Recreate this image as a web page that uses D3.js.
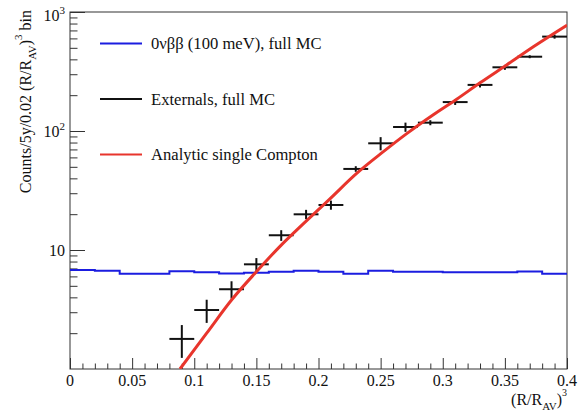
<!DOCTYPE html>
<html>
<head>
<meta charset="utf-8">
<script src="https://cdn.jsdelivr.net/npm/d3@7"></script>
<style>
body { margin: 0; background: #fff; }
text { font-family: "Liberation Serif", "Times New Roman", Times, serif; fill: #111; }
</style>
</head>
<body>
<svg id="chart" width="578" height="414"></svg>
<script>
// 0vbb histogram, 0.02 wide bins in (R/R_AV)^3
var binEdges = [0, 0.02, 0.04, 0.06, 0.08, 0.10, 0.12, 0.14, 0.16, 0.18, 0.20,
                0.22, 0.24, 0.26, 0.28, 0.30, 0.32, 0.34, 0.36, 0.38, 0.40]
var signalCounts = [6.79, 6.70, 6.32, 6.32, 6.62, 6.50, 6.35, 6.45, 6.58, 6.70,
                    6.55, 6.32, 6.70, 6.55, 6.55, 6.50, 6.50, 6.50, 6.60, 6.32]

// externals, full MC (bin centres, counts, errors)
var extCentres = [0.09, 0.11, 0.13, 0.15, 0.17, 0.19, 0.21, 0.23,
                  0.25, 0.27, 0.29, 0.31, 0.33, 0.35, 0.37, 0.39]
var extCounts = [1.79, 3.13, 4.68, 7.58, 13.3, 19.95, 23.9, 48.0,
                 78.8, 108, 117.5, 175, 244, 343, 421, 621]
var extErrors = [0.55, 0.69, 0.78, 0.97, 1.37, 1.8, 2.1, 2.6,
                 10, 9.6, 5.7, 9.5, 11.8, 16.6, 12, 24]
var binWidth = 0.02

// analytic single Compton curve
var comptonR = [0.0885, 0.110, 0.130, 0.150, 0.170, 0.1824, 0.209, 0.2307,
                0.2522, 0.271, 0.2924, 0.3112, 0.330, 0.3514, 0.3729, 0.400]
var comptonCounts = [1.0, 2.0, 3.8, 6.57, 11.0, 14.7, 26.8, 44,
                     67, 95, 137, 185, 254, 359, 511, 776]

var xMajor = [0, 0.05, 0.1, 0.15, 0.2, 0.25, 0.3, 0.35, 0.4]
var xMinor = [0.01, 0.02, 0.03, 0.04, 0.06, 0.07, 0.08, 0.09, 0.11, 0.12, 0.13, 0.14,
              0.16, 0.17, 0.18, 0.19, 0.21, 0.22, 0.23, 0.24, 0.26, 0.27, 0.28, 0.29,
              0.31, 0.32, 0.33, 0.34, 0.36, 0.37, 0.38, 0.39]
var yMajor = [10, 100, 1000]
var yMajorLabels = [['10', ''], ['10', '2'], ['10', '3']]
var yMinor = [2, 3, 4, 5, 6, 7, 8, 9, 20, 30, 40, 50, 60, 70, 80, 90,
              200, 300, 400, 500, 600, 700, 800, 900]

var legendItems = [
  {label: '0νββ (100 meV), full MC', color: '#1b1de0'}
, {label: 'Externals, full MC', color: '#111'}
, {label: 'Analytic single Compton', color: '#e8352c'}
]

var frame = {left: 70, top: 12, right: 567, bottom: 369}

var svg = d3.select('#chart')

var x = d3.scaleLinear().domain([0, 0.4]).range([frame.left, frame.right])
,   y = d3.scaleLog().domain([1, 1000]).range([frame.bottom, frame.top])

svg.append('defs').append('clipPath')
  .attr('id', 'plotClip')
  .append('rect')
  .attr('x', frame.left)
  .attr('y', frame.top)
  .attr('width', frame.right - frame.left)
  .attr('height', frame.bottom - frame.top)

// ticks point inward, ROOT style
function tickAxis(axis, vals, size) {
  return axis.tickValues(vals).tickSizeInner(-size).tickSizeOuter(0).tickFormat('')
}

var gx = svg.append('g').attr('transform', 'translate(0,' + frame.bottom + ')')
gx.append('g').call(tickAxis(d3.axisBottom(x), xMajor, 11))
gx.append('g').call(tickAxis(d3.axisBottom(x), xMinor, 5.5))
gx.selectAll('text.xlab')
  .data(xMajor)
  .enter()
  .append('text')
  .attr('class', 'xlab')
  .attr('x', (d) => x(d))
  .attr('y', 16.5)
  .attr('text-anchor', 'middle')
  .attr('font-size', 16)
  .text((d) => d3.format('')(d))

var gy = svg.append('g').attr('transform', 'translate(' + frame.left + ',0)')
gy.append('g').call(tickAxis(d3.axisLeft(y), yMajor, 15))
gy.append('g').call(tickAxis(d3.axisLeft(y), yMinor, 7.5))
svg.selectAll('.domain').remove()
svg.selectAll('.tick line').attr('stroke', '#333')

var ylab = svg.selectAll('text.ylab')
  .data(yMajor)
  .enter()
  .append('text')
  .attr('class', 'ylab')
  .attr('x', 65)
  .attr('y', (d, i) => y(d) + (i == 2 ? 9 : 5.5))
  .attr('text-anchor', 'end')
  .attr('font-size', 16)
ylab.append('tspan').text((d, i) => yMajorLabels[i][0])
ylab.append('tspan')
  .attr('dy', -7)
  .attr('font-size', 11)
  .text((d, i) => yMajorLabels[i][1])

// frame
svg.append('rect')
  .attr('x', frame.left)
  .attr('y', frame.top)
  .attr('width', frame.right - frame.left)
  .attr('height', frame.bottom - frame.top)
  .attr('fill', 'none')
  .attr('stroke', '#333')
  .attr('stroke-width', 1)

var plot = svg.append('g').attr('clip-path', 'url(#plotClip)')

// signal histogram
var stepData = signalCounts.map((v, i) => [binEdges[i], v])
stepData.push([binEdges[binEdges.length - 1], signalCounts[signalCounts.length - 1]])
plot.append('path')
  .datum(stepData)
  .attr('fill', 'none')
  .attr('stroke', legendItems[0].color)
  .attr('stroke-width', 2)
  .attr('d', d3.line().curve(d3.curveStepAfter).x((d) => x(d[0])).y((d) => y(d[1])))

// externals crosses
var crosses = plot.selectAll('.ext')
  .data(extCentres)
  .enter()
  .append('g')
  .attr('class', 'ext')
  .attr('stroke', legendItems[1].color)
  .attr('stroke-width', 2)
crosses.append('line')
  .attr('x1', (d) => x(d - binWidth / 2))
  .attr('x2', (d) => x(d + binWidth / 2))
  .attr('y1', (d, i) => y(extCounts[i]))
  .attr('y2', (d, i) => y(extCounts[i]))
crosses.append('line')
  .attr('x1', (d) => x(d))
  .attr('x2', (d) => x(d))
  .attr('y1', (d, i) => y(extCounts[i] + extErrors[i]))
  .attr('y2', (d, i) => y(Math.max(extCounts[i] - extErrors[i], 0.5)))

// analytic curve
plot.append('path')
  .datum(comptonR.map((r, i) => [r, comptonCounts[i]]))
  .attr('fill', 'none')
  .attr('stroke', legendItems[2].color)
  .attr('stroke-width', 3)
  .attr('d', d3.line().curve(d3.curveMonotoneX).x((d) => x(d[0])).y((d) => y(d[1])))

// legend
var legendRows = [43.5, 99, 154.5]
var legend = svg.selectAll('.legend')
  .data(legendItems)
  .enter()
  .append('g')
  .attr('class', 'legend')
  .attr('transform', (d, i) => 'translate(0,' + legendRows[i] + ')')
legend.append('line')
  .attr('x1', 100)
  .attr('x2', 142)
  .attr('stroke', (d) => d.color)
  .attr('stroke-width', 2)
legend.append('text')
  .attr('x', 151)
  .attr('y', 5.5)
  .attr('font-size', 16.6)
  .text((d) => d.label)

// axis titles
var xt = svg.append('text')
  .attr('x', 567)
  .attr('y', 405)
  .attr('text-anchor', 'end')
  .attr('font-size', 16)
xt.append('tspan').text('(R/R')
xt.append('tspan').attr('dy', 5).attr('font-size', 11).text('AV')
xt.append('tspan').attr('dy', -5).text(')')
xt.append('tspan').attr('dy', -9).attr('font-size', 10).text('3')

var yt = svg.append('text')
  .attr('transform', 'translate(31,10) rotate(-90)')
  .attr('text-anchor', 'end')
  .attr('font-size', 16)
yt.append('tspan').text('Counts/5y/0.02 (R/R')
yt.append('tspan').attr('dy', 5).attr('font-size', 11).text('AV')
yt.append('tspan').attr('dy', -5).text(')')
yt.append('tspan').attr('dy', -9).attr('font-size', 11).text('3')
yt.append('tspan').attr('dy', 9).text(' bin')
</script>
</body>
</html>
